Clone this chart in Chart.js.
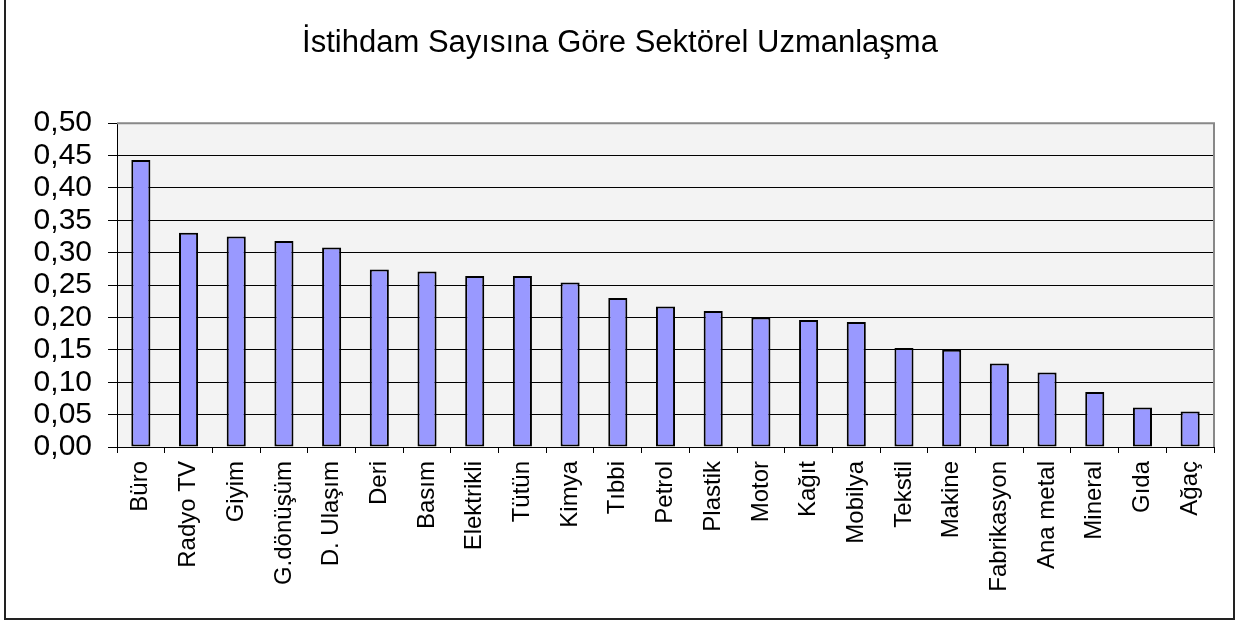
<!DOCTYPE html>
<html>
<head>
<meta charset="utf-8">
<script src="https://cdn.jsdelivr.net/npm/chart.js@4/dist/chart.umd.min.js"></script>
<style>
  html, body { margin: 0; padding: 0; background: #ffffff; }
  #wrap { position: relative; width: 1240px; height: 623px; }
</style>
</head>
<body>
<div id="wrap"><canvas id="c" width="1240" height="623"></canvas></div>
<script>
const chartTitle = "İstihdam Sayısına Göre Sektörel Uzmanlaşma";
const categories = ["Büro", "Radyo TV", "Giyim", "G.dönüşüm", "D. Ulaşım", "Deri", "Basım", "Elektrikli", "Tütün", "Kimya", "Tıbbi", "Petrol", "Plastik", "Motor", "Kağıt", "Mobilya", "Tekstil", "Makine", "Fabrikasyon", "Ana metal", "Mineral", "Gıda", "Ağaç"];
const values = [0.443, 0.331, 0.325, 0.318, 0.308, 0.274, 0.271, 0.264, 0.264, 0.254, 0.230, 0.217, 0.210, 0.200, 0.196, 0.193, 0.153, 0.150, 0.129, 0.115, 0.085, 0.061, 0.055];
const yMin = 0;
const yMax = 0.5;
const yStep = 0.05;

const frame = {
  id: 'frame',
  beforeDraw(chart) {
    const ctx = chart.ctx, a = chart.chartArea;
    ctx.save();
    ctx.fillStyle = '#f3f3f3';
    ctx.fillRect(a.left, a.top, a.right - a.left, a.bottom - a.top);
    ctx.restore();
  },
  afterDraw(chart) {
    const ctx = chart.ctx, a = chart.chartArea;
    ctx.save();
    ctx.strokeStyle = '#888888';
    ctx.lineWidth = 2;
    ctx.beginPath();
    ctx.moveTo(a.left, a.top);
    ctx.lineTo(a.right, a.top);
    ctx.lineTo(a.right, a.bottom);
    ctx.stroke();
    ctx.strokeStyle = '#222222';
    ctx.lineWidth = 2;
    ctx.beginPath();
    ctx.moveTo(5, 0);
    ctx.lineTo(5, 619);
    ctx.lineTo(1234, 619);
    ctx.lineTo(1234, 0);
    ctx.stroke();
    ctx.restore();
  }
};

new Chart(document.getElementById('c'), {
  type: 'bar',
  data: {
    labels: categories,
    datasets: [{
      data: values,
      backgroundColor: '#9999ff',
      borderColor: '#000000',
      borderWidth: 2,
      borderSkipped: false,
      barPercentage: 0.4,
      categoryPercentage: 1.0,
      yAxisID: 'y'
    }]
  },
  options: {
    responsive: false,
    animation: false,
    devicePixelRatio: 1,
    layout: { padding: { left: 5, right: 5, top: 0, bottom: 8 } },
    plugins: {
      legend: { display: false },
      tooltip: { enabled: false },
      title: {
        display: true,
        text: chartTitle,
        color: '#000000',
        font: { family: 'Liberation Sans, Arial, sans-serif', size: 31, weight: 'normal', lineHeight: 1.2 },
        padding: { top: 25, bottom: 61 }
      }
    },
    scales: {
      x: {
        offset: true,
        grid: { display: true, drawOnChartArea: false, drawTicks: true, tickLength: 6, color: '#000000', offset: true },
        border: { display: true, color: '#000000', width: 1 },
        ticks: {
          autoSkip: false,
          minRotation: 90,
          maxRotation: 90,
          padding: 8,
          color: '#000000',
          font: { family: 'Liberation Sans, Arial, sans-serif', size: 24 }
        },
        afterFit(scale) { scale.height = 623 - 8 - 447; }
      },
      y: {
        min: yMin,
        max: yMax,
        grid: { color: '#000000', lineWidth: 1, tickLength: 9, drawTicks: true },
        border: { display: true, color: '#000000', width: 1 },
        ticks: {
          stepSize: yStep,
          autoSkip: false,
          padding: 16,
          color: '#000000',
          font: { family: 'Liberation Sans, Arial, sans-serif', size: 30, lineHeight: 1 },
          callback: (v) => Number(v).toFixed(2).replace('.', ',')
        },
        afterFit(scale) { scale.width = 117 - 5; }
      },
      ySpacer: {
        type: 'linear',
        position: 'right',
        display: true,
        min: yMin,
        max: yMax,
        grid: { display: false, drawOnChartArea: false },
        border: { display: false },
        ticks: { display: false },
        afterFit(scale) { scale.width = 1240 - 5 - 1214; }
      }
    }
  },
  plugins: [frame]
});
</script>
</body>
</html>
